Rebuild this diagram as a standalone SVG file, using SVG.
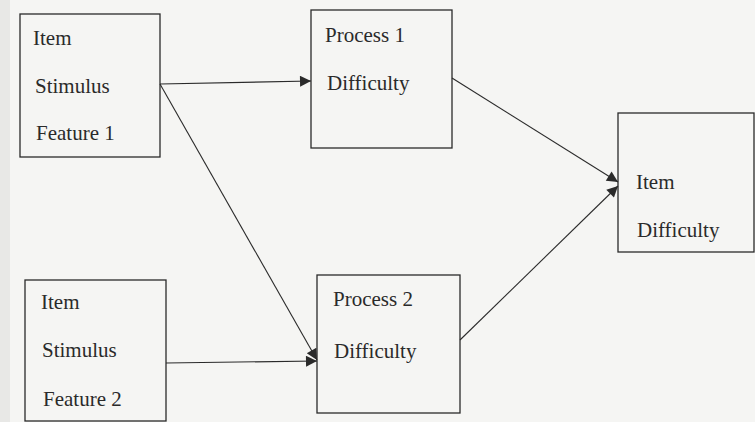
<svg xmlns="http://www.w3.org/2000/svg" width="755" height="422" viewBox="0 0 755 422">
<style>
.box{fill:none;stroke:#2a2a2a;stroke-width:1.3}
.t{font-family:"Liberation Serif","Times New Roman",serif;font-size:21px;fill:#2a2a2a}
.c{stroke:#2a2a2a;stroke-width:1.1;fill:none;marker-end:url(#ah)}
</style>
<defs>
<marker id="ah" viewBox="0 0 10 10" refX="10" refY="5" markerWidth="13" markerHeight="11" markerUnits="userSpaceOnUse" orient="auto">
<path d="M0,0 L10,5 L0,10 z" fill="#2a2a2a"/>
</marker>
</defs>
<rect width="755" height="422" fill="#f5f5f3"/>
<rect width="10" height="422" fill="#e8e8e6"/>
<g id="connectors">
<line class="c" x1="160" y1="84" x2="311" y2="81"/>
<line class="c" x1="160" y1="84" x2="317" y2="360"/>
<line class="c" x1="166" y1="363" x2="317" y2="361"/>
<line class="c" x1="452" y1="78" x2="618" y2="182"/>
<line class="c" x1="460" y1="340" x2="618" y2="186"/>
</g>
<g id="n1">
<rect class="box" x="20" y="14" width="140" height="143"/>
<text class="t" x="33" y="45">Item</text>
<text class="t" x="35" y="93">Stimulus</text>
<text class="t" x="36" y="140">Feature 1</text>
</g>
<g id="n2">
<rect class="box" x="311" y="10" width="141" height="138"/>
<text class="t" x="325" y="42">Process 1</text>
<text class="t" x="327" y="90">Difficulty</text>
</g>
<g id="n3">
<rect class="box" x="618" y="113" width="136" height="139"/>
<text class="t" x="636" y="189">Item</text>
<text class="t" x="637" y="237">Difficulty</text>
</g>
<g id="n4">
<rect class="box" x="317" y="275" width="143" height="138"/>
<text class="t" x="333" y="306">Process 2</text>
<text class="t" x="334" y="358">Difficulty</text>
</g>
<g id="n5">
<rect class="box" x="25" y="280" width="141" height="141"/>
<text class="t" x="41" y="309">Item</text>
<text class="t" x="42" y="357">Stimulus</text>
<text class="t" x="43" y="406">Feature 2</text>
</g>
</svg>
